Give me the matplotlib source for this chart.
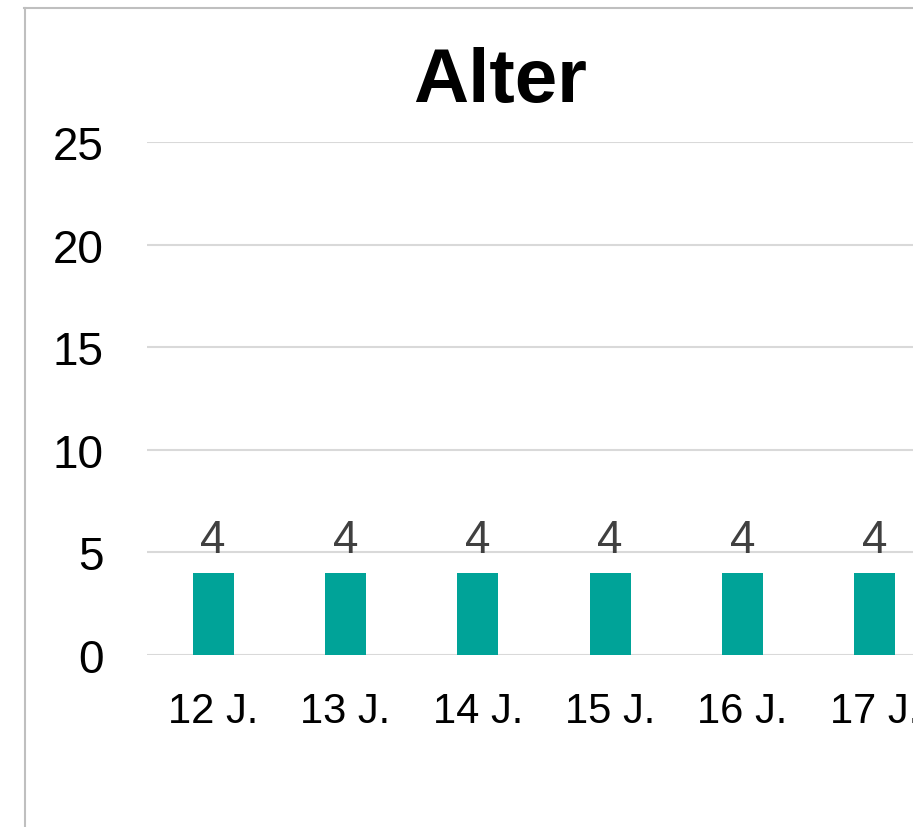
import matplotlib
matplotlib.use("Agg")
import matplotlib.pyplot as plt
from matplotlib.lines import Line2D

plt.rcParams["font.family"] = ["Liberation Sans", "DejaVu Sans"]

# Altersverteilung der Teilnehmer
categories = ["12 J.", "13 J.", "14 J.", "15 J.", "16 J.", "17 J."]
counts = [4, 4, 4, 4, 4, 4]
y_ticks = [0, 5, 10, 15, 20, 25]

W, H, DPI = 913, 828, 100
fig = plt.figure(figsize=(W / DPI, H / DPI), dpi=DPI)
fig.patch.set_facecolor("white")

# chart frame (left and top edges visible)
frame_kw = dict(color="#bfbfbf", linewidth=1.5, transform=fig.transFigure)
fig.add_artist(Line2D([24.5 / W, 24.5 / W], [0, 1 - 9 / H], **frame_kw))
fig.add_artist(Line2D([24 / W, 1.0], [1 - 9 / H, 1 - 9 / H], **frame_kw))

# plot area runs past the right edge
left, right, bottom, top = 147, 941, 656, 143
ax = fig.add_axes([left / W, 1 - bottom / H, (right - left) / W, (bottom - top) / H])

x = list(range(len(categories)))
ax.bar(x, counts, width=0.31, color="#00a398", zorder=3)
for xi, v in zip(x, counts):
    ax.annotate(str(v), (xi, v), xytext=(0, 15), textcoords="offset points",
                ha="center", va="baseline", fontsize=33, color="#404040")

ax.set_xlim(-0.5, len(categories) - 0.5)
ax.set_ylim(0, 25)
ax.set_yticks(y_ticks)
ax.set_xticks(x)
ax.set_xticklabels(categories)
ax.tick_params(axis="y", length=0, pad=31.5, labelsize=33, labelcolor="black")
ax.tick_params(axis="x", length=0, pad=26, labelsize=30, labelcolor="black")
ax.grid(axis="y", color="#d9d9d9", linewidth=1.5, zorder=0)
ax.set_axisbelow(True)
for s in ax.spines.values():
    s.set_visible(False)
ax.set_facecolor("none")

fig.text(500 / W, 1 - 102 / H, "Alter", ha="center", va="baseline",
         fontsize=55, fontweight="bold", color="black")

fig.savefig("out.png", dpi=DPI)
